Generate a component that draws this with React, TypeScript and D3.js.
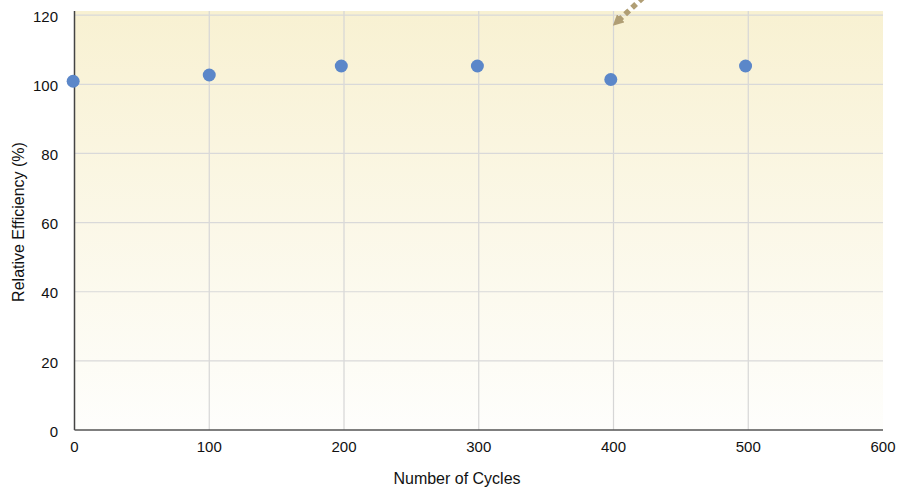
import React from "react";
import * as d3 from "d3";

const cycles = [-1, 100, 198, 299, 398, 498];
const efficiency = [100.9, 102.7, 105.3, 105.3, 101.4, 105.3];
const xTicks = [0, 100, 200, 300, 400, 500, 600];
const yTicks = [0, 20, 40, 60, 80, 100, 120];

const W = 899;
const H = 488;
const M = { left: 74.5, right: 16, top: 11, bottom: 58 };

export default function App() {
  const x = d3.scaleLinear().domain([0, 600]).range([M.left, W - M.right]);
  const y = d3.scaleLinear().domain([0, 120]).range([430, 15.2]);
  const font = "'Liberation Sans', Arial, Helvetica, sans-serif";
  const plotTop = M.top;
  const plotBottom = y(0);
  return (
    <svg width={W} height={H} style={{ position: "absolute", left: 0, top: 0 }}>
      <defs>
        <linearGradient id="bg" x1="0" y1="0" x2="0" y2="1">
          <stop offset="0%" stopColor="#f8f1d2" />
          <stop offset="100%" stopColor="#fefefc" />
        </linearGradient>
        <marker id="arrow" viewBox="0 0 10 10" refX="1" refY="5" markerWidth="2" markerHeight="2" orient="auto">
          <path d="M0,0 L10,5 L0,10 Z" fill="#b09e74" />
        </marker>
      </defs>
      <rect x={x(0)} y={plotTop} width={x(600) - x(0)} height={plotBottom - plotTop} fill="url(#bg)" />
      {xTicks.filter((t) => t > 0 && t < 600).map((t) => (
        <line key={"gx" + t} x1={x(t)} x2={x(t)} y1={plotTop} y2={plotBottom} stroke="#d6d6d6" strokeWidth={1.2} />
      ))}
      {yTicks.filter((t) => t > 0).map((t) => (
        <line key={"gy" + t} x1={x(0)} x2={x(600)} y1={y(t)} y2={y(t)} stroke="#d9d9d9" strokeWidth={1.2} />
      ))}
      <line x1={x(0)} x2={x(0)} y1={plotTop} y2={plotBottom} stroke="#444" strokeWidth={1.5} />
      <line x1={x(0)} x2={x(600)} y1={plotBottom} y2={plotBottom} stroke="#555" strokeWidth={1.5} />
      {yTicks.map((t) => (
        <text key={"ty" + t} x={58} y={y(t)} dy="0.45em" textAnchor="end" fontFamily={font} fontSize={15} fill="#111">
          {t}
        </text>
      ))}
      {xTicks.map((t) => (
        <text key={"tx" + t} x={x(t)} y={452} textAnchor="middle" fontFamily={font} fontSize={15} fill="#111">
          {t}
        </text>
      ))}
      <text x={457} y={484} textAnchor="middle" fontFamily={font} fontSize={16} fill="#111">
        Number of Cycles
      </text>
      <text transform={`translate(24,222) rotate(-90)`} textAnchor="middle" fontFamily={font} fontSize={16} fill="#111">
        Relative Efficiency (%)
      </text>
      {cycles.map((c, i) => (
        <circle key={"p" + i} cx={x(c)} cy={y(efficiency[i])} r={6.5} fill="#5b87c9" />
      ))}
      <line x1={650} y1={-9} x2={620} y2={19} stroke="#b09e74" strokeWidth={5.5} strokeDasharray="5.5,4" markerEnd="url(#arrow)" />
    </svg>
  );
}
